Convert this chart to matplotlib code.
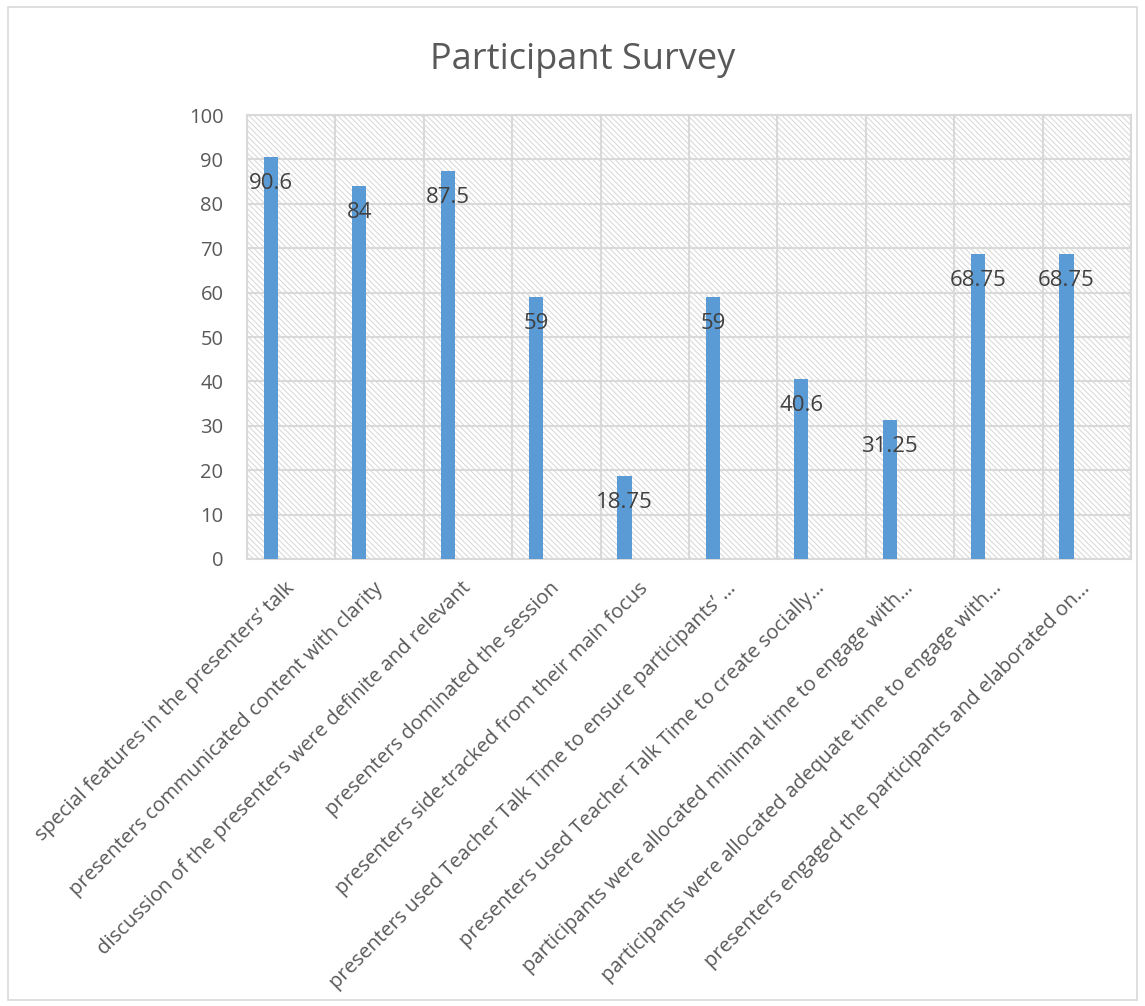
import matplotlib.pyplot as plt
import matplotlib as mpl
import numpy as np

mpl.rcParams['hatch.color'] = '#d6d6d6'
mpl.rcParams['hatch.linewidth'] = 0.7
plt.rcParams['font.family'] = ['Open Sans', 'DejaVu Sans']

categories = [
    "special features in the presenters\u2019 talk",
    "presenters communicated content with clarity",
    "discussion of the presenters were definite and relevant",
    "presenters dominated the session",
    "presenters side-tracked from their main focus",
    "presenters used Teacher Talk Time to ensure participants\u2019 \u2026",
    "presenters used Teacher Talk Time to create socially\u2026",
    "participants were allocated minimal time to engage with\u2026",
    "participants were allocated adequate time to engage with\u2026",
    "presenters engaged the participants and elaborated on\u2026",
]
values = [90.6, 84, 87.5, 59, 18.75, 59, 40.6, 31.25, 68.75, 68.75]
value_labels = ["90.6", "84", "87.5", "59", "18.75", "59", "40.6", "31.25", "68.75", "68.75"]

text_col = '#595959'
bar_col = '#5b9bd5'
grid_col = '#d9d9d9'

fig = plt.figure(figsize=(11.45, 10.06), dpi=100)
# outer chart border
fig.patches.append(plt.Rectangle((0.007, 0.006), 0.986, 0.987, transform=fig.transFigure,
                                 fill=False, edgecolor=grid_col, linewidth=1.2))
ax = fig.add_axes([247 / 1145, 1 - 559 / 1006, (1131 - 247) / 1145, (559 - 115) / 1006])

n = len(values)
x = np.arange(n)
ax.set_xlim(-0.5, n - 0.5)
ax.set_ylim(0, 100)

# hatched plot area background
ax.add_patch(plt.Rectangle((-0.5, 0), n, 100, facecolor='white', hatch='\\' * 6,
                           edgecolor='#d6d6d6', linewidth=0, zorder=0))

# bars sit left of the category centre (first slot of an Excel cluster)
offset = -0.23
ax.bar(x + offset, values, width=0.16, color=bar_col, zorder=3)

for xi, v, lab in zip(x, values, value_labels):
    ax.text(xi + offset, v - 6, lab, ha='center', va='center', fontsize=16,
            color='#404040', zorder=4)

ax.set_yticks(np.arange(0, 101, 10))
ax.set_xticks(x)
ax.set_xticklabels(categories, rotation=45, ha='right', va='center',
                   rotation_mode='anchor', fontsize=14.6, color=text_col)
ax.tick_params(axis='y', labelsize=14.5, labelcolor=text_col, length=0, pad=17)
ax.tick_params(axis='x', length=0, pad=19)

ax.set_xticks(np.arange(-0.5, n, 1), minor=True)
ax.grid(True, which='minor', axis='x', color=grid_col, linewidth=1.5, zorder=1)
ax.grid(True, which='major', axis='y', color=grid_col, linewidth=1.5, zorder=1)
ax.tick_params(which='minor', length=0)
for s in ax.spines.values():
    s.set_color(grid_col)
    s.set_linewidth(1.5)

fig.text(583 / 1145, 1 - 60 / 1006, "Participant Survey",
         ha='center', va='center', fontsize=26, color=text_col)

fig.savefig('out.png', dpi=100)
